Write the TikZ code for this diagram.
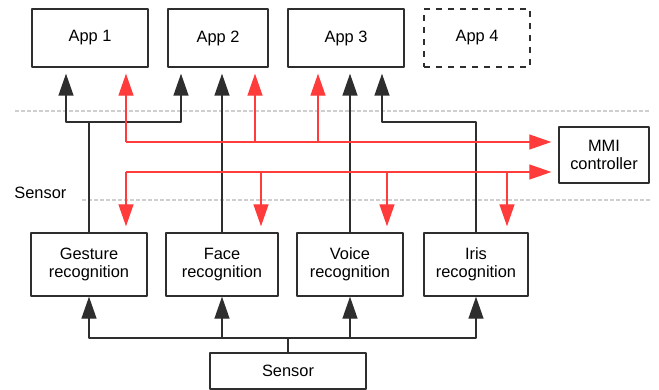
\documentclass[tikz,border=0pt]{standalone}
\usepackage{fontspec}
\setmainfont{Liberation Sans}
\usepackage{xcolor}
\usetikzlibrary{arrows.meta}
\definecolor{mmired}{HTML}{FF3B3B}
\definecolor{edge}{HTML}{2E2E2E}
\definecolor{sep}{HTML}{CFCFCF}

\begin{document}
\begin{tikzpicture}[x=0.5pt, y=-0.5pt, line join = round,
    box/.style={draw=edge, line width=0.7pt, align=center, inner sep=0pt,
                font=\fontsize{8.2}{9}\selectfont},
    blk/.style={draw=edge, line width=0.7pt, -{Triangle[length=11pt,width=7.5pt]}},
    rd/.style={draw=mmired, line width=0.65pt, -{Triangle[length=11pt,width=7.5pt]}},
    sepline/.style={draw=sep, line width=0.8pt, dash pattern=on 2pt off 1pt}]

    \useasboundingbox (0,0) rectangle (659,390);

    % apps
    \node[box, minimum width=58pt, minimum height=29pt] (app1) at (90,38) {App 1};
    \node[box, minimum width=50pt, minimum height=29pt] (app2) at (218,38) {App 2};
    \node[box, minimum width=58pt, minimum height=29pt] (app3) at (346,38) {App 3};
    \node[box, minimum width=53pt, minimum height=29pt, dashed] (app4) at (477,38) {App 4};

    % controller
    \node[box, minimum width=45pt, minimum height=28pt] (mmi) at (604,155) {MMI\\controller};

    % recognition blocks
    \node[box, minimum width=58pt, minimum height=31.5pt] (gest) at (89,264.5) {Gesture\\recognition};
    \node[box, minimum width=56pt, minimum height=31.5pt] (face) at (222,264.5) {Face\\recognition};
    \node[box, minimum width=53pt, minimum height=31.5pt] (voice) at (350,264.5) {Voice\\recognition};
    \node[box, minimum width=52pt, minimum height=31.5pt] (iris) at (476,264.5) {Iris\\recognition};

    % sensor
    \node[box, minimum width=78pt, minimum height=18pt] (sensor) at (288,371) {Sensor};

    % layer separators
    \draw[sepline] (15,111) -- (650,111);
    \draw[sepline] (82,200) -- (650,200);
    \node[anchor=west, inner sep=0pt, font=\fontsize{8.2}{9}\selectfont] (lay) at (14,193) {Sensor};

    % junction points
    \coordinate (g1) at (66,122);
    \coordinate (g2) at (181,122);
    \coordinate (i1) at (382,122);
    \coordinate (r1) at (126,142);
    \coordinate (r2) at (255,142);
    \coordinate (r3) at (318,142);
    \coordinate (m1) at (126,172);
    \coordinate (m2) at (261,172);
    \coordinate (m3) at (387,172);
    \coordinate (m4) at (507,172);
    \coordinate (s0) at (288,338);

    % recognition -> apps
    \draw[blk, shorten >=3pt] (gest.north) |- (g1) -- (g1 |- app1.south);
    \draw[blk, shorten >=3pt] (gest.north) |- (g2) -- (g2 |- app2.south);
    \draw[blk, shorten >=3pt] (face.north) -- (face.north |- app2.south);
    \draw[blk, shorten >=3pt] (voice.north) -- (voice.north |- app3.south);
    \draw[blk, shorten >=3pt] (iris.north) |- (i1) -- (i1 |- app3.south);

    % controller links, upper
    \draw[rd, shorten >=3.5pt] (r1) -- (r1 -| mmi.west);
    \draw[rd, shorten >=3pt] (r1) -- (r1 |- app1.south);
    \draw[rd, shorten >=3pt] (r2) -- (r2 |- app2.south);
    \draw[rd, shorten >=3pt] (r3) -- (r3 |- app3.south);

    % controller links, lower
    \draw[rd, shorten >=3.5pt] (m1) -- (m1 -| mmi.west);
    \draw[rd, shorten >=3pt] (m1) -- (m1 |- gest.north);
    \draw[rd, shorten >=3pt] (m2) -- (m2 |- face.north);
    \draw[rd, shorten >=3pt] (m3) -- (m3 |- voice.north);
    \draw[rd, shorten >=3pt] (m4) -- (m4 |- iris.north);

    % sensor -> recognition
    \draw[blk] (sensor.north) |- (gest.south |- s0) -- (gest.south);
    \draw[blk] (sensor.north) |- (face.south |- s0) -- (face.south);
    \draw[blk] (sensor.north) |- (voice.south |- s0) -- (voice.south);
    \draw[blk] (sensor.north) |- (iris.south |- s0) -- (iris.south);

\end{tikzpicture}
\end{document}
